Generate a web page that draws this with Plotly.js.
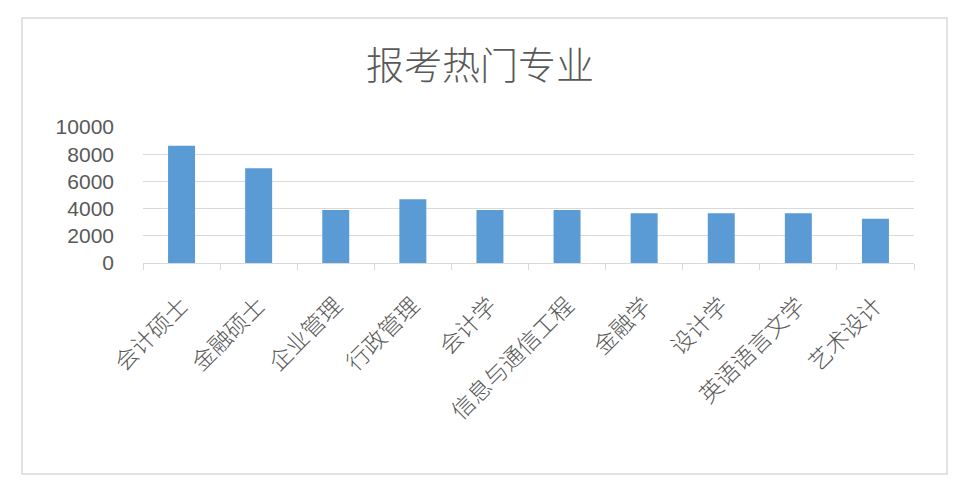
<!DOCTYPE html>
<html>
<head>
<meta charset="utf-8">
<script src="https://cdn.plot.ly/plotly-3.0.1.min.js"></script>
<style>
  html, body { margin: 0; padding: 0; background: #ffffff; }
  #chart { width: 960px; height: 492px; }
</style>
</head>
<body>
<div id="chart"></div>
<script>
  const majors = ['会计硕士', '金融硕士', '企业管理', '行政管理', '会计学',
    '信息与通信工程', '金融学', '设计学', '英语语言文学', '艺术设计']
  const applicants = [8620, 6960, 3900, 4680, 3900, 3900, 3650, 3650, 3650, 3260]
  const yTicks = [0, 2000, 4000, 6000, 8000, 10000]

  const trace = {
    x: majors,
    y: applicants,
    type: 'bar',
    marker: { color: '#5b9bd5' },
    hoverinfo: 'x+y',
  }

  const layout = {
    width: 960,
    height: 492,
    title: {
      text: '报考热门专业',
      x: 0.5,
      xanchor: 'center',
      y: 0.866,
      yanchor: 'middle',
      font: { family: 'Noto Sans CJK SC', size: 38, color: '#595959', weight: 300 },
    },
    paper_bgcolor: '#ffffff',
    plot_bgcolor: '#ffffff',
    margin: { l: 143, r: 46, t: 127, b: 229 },
    bargap: 0.65,
    showlegend: false,
    xaxis: {
      type: 'category',
      tickangle: -45,
      tickfont: { family: 'Noto Sans CJK SC', size: 23, color: '#595959', weight: 300 },
      ticks: 'outside',
      tickson: 'boundaries',
      ticklen: 6,
      tickcolor: '#d9d9d9',
      showline: true,
      linecolor: '#d9d9d9',
      linewidth: 1,
      showgrid: false,
      ticklabelstandoff: 19,
    },
    yaxis: {
      range: [0, 10000],
      tickvals: yTicks,
      ticktext: yTicks.map(String),
      tickfont: { family: 'Liberation Sans', size: 21, color: '#595959' },
      gridcolor: '#d9d9d9',
      gridwidth: 1,
      zeroline: false,
      showline: false,
      ticklabelstandoff: 28,
    },
    shapes: [{
      type: 'rect',
      xref: 'paper',
      yref: 'paper',
      x0: (22 - 143) / 771,
      x1: (947 - 143) / 771,
      y0: (263 - 474) / 136,
      y1: (263 - 18) / 136,
      line: { color: '#d9d9d9', width: 1.5 },
      fillcolor: 'rgba(0,0,0,0)',
      layer: 'below',
    }],
  }

  Plotly.newPlot('chart', [trace], layout, { displayModeBar: false, staticPlot: true })
</script>
</body>
</html>
